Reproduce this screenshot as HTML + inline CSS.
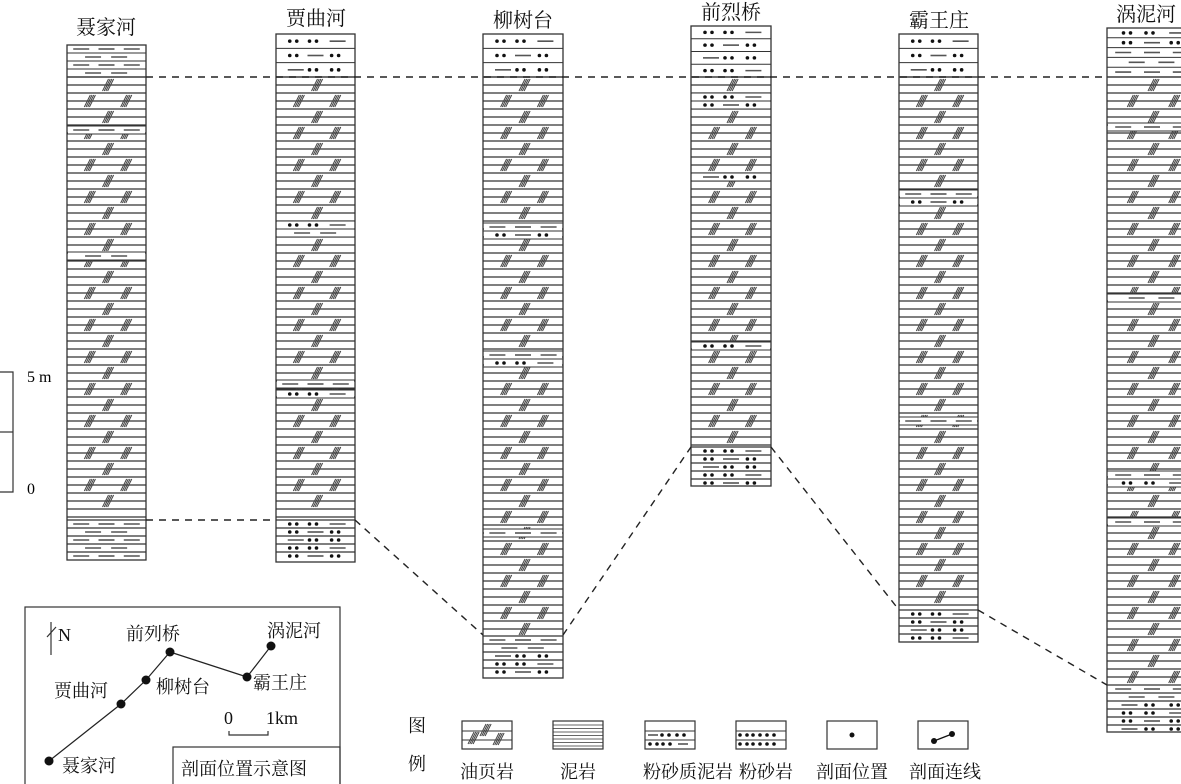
<!DOCTYPE html>
<html><head><meta charset="utf-8">
<style>
html,body{margin:0;padding:0;background:#fff;}
svg{display:block;font-family:"Liberation Serif","Noto Serif CJK SC","Noto Sans CJK SC",serif;}
</style></head>
<body>
<svg id="s" width="1181" height="784" viewBox="0 0 1181 784" xmlns="http://www.w3.org/2000/svg">
<g id="cols"></g>
<g font-size="20" fill="#111" text-anchor="middle" font-family="Liberation Serif, Noto Serif CJK SC, serif">
<text x="106" y="34">聂家河</text>
<text x="316" y="25">贾曲河</text>
<text x="523" y="27">柳树台</text>
<text x="731" y="19">前烈桥</text>
<text x="939" y="27">霸王庄</text>
<text x="1146" y="21">涡泥河</text>
</g>
<g stroke="#222" stroke-width="1.4" stroke-dasharray="7,6" fill="none">
<line x1="146" y1="77" x2="1107" y2="77"/>
<polyline points="146,520 276,520"/>
<polyline points="355,520 483,635"/>
<polyline points="563,635 691,447"/>
<polyline points="771,447 899,610"/>
<polyline points="978,610 1107,685"/>
</g>
<g stroke="#333" stroke-width="1.2" fill="none">
<polyline points="0,372 13,372 13,492 0,492"/>
<line x1="0" y1="432" x2="13" y2="432"/>
</g>
<text x="27" y="382" font-size="16" font-family="Liberation Serif, serif">5 m</text>
<text x="27" y="494" font-size="16" font-family="Liberation Serif, serif">0</text>
<g stroke="#333" stroke-width="1.2" fill="none">
<rect x="25" y="607" width="315" height="180"/>
<rect x="173" y="747" width="167" height="40"/>
<polyline points="49,761 121,704 146,680 170,652 247,677 271,646" stroke="#222"/>
<polyline points="229,731 229,735 268,735 268,731"/>
<line x1="51" y1="622" x2="51" y2="655"/>
<line x1="47" y1="637" x2="56" y2="627"/>
</g>
<g fill="#111">
<circle cx="49" cy="761" r="4.5"/><circle cx="121" cy="704" r="4.5"/><circle cx="146" cy="680" r="4.5"/>
<circle cx="170" cy="652" r="4.5"/><circle cx="247" cy="677" r="4.5"/><circle cx="271" cy="646" r="4.5"/>
</g>
<g font-size="18" fill="#111">
<text x="58" y="641" font-family="Liberation Serif, serif">N</text>
<text x="126" y="640">前列桥</text>
<text x="267" y="637">涡泥河</text>
<text x="54" y="697">贾曲河</text>
<text x="156" y="693">柳树台</text>
<text x="253" y="689">霸王庄</text>
<text x="62" y="772">聂家河</text>
<text x="224" y="724" font-family="Liberation Serif, serif">0</text>
<text x="266" y="724" font-family="Liberation Serif, serif">1km</text>
<text x="181" y="775">剖面位置示意图</text>
<text x="408" y="732">图</text>
<text x="408" y="770">例</text>
<text x="487" y="778" text-anchor="middle">油页岩</text>
<text x="578" y="778" text-anchor="middle">泥岩</text>
<text x="688" y="778" text-anchor="middle">粉砂质泥岩</text>
<text x="766" y="778" text-anchor="middle">粉砂岩</text>
<text x="852" y="778" text-anchor="middle">剖面位置</text>
<text x="945" y="778" text-anchor="middle">剖面连线</text>
</g>
<g id="leg"></g>
</svg>
<script>
var out=[];
function L(x1,y1,x2,y2,c,w,d){out.push('<line x1="'+x1+'" y1="'+y1+'" x2="'+x2+'" y2="'+y2+'" stroke="'+(c||'#333')+'" stroke-width="'+(w||1)+'"'+(d?' stroke-dasharray="'+d+'"':'')+'/>');}
function dots(x,y){out.push('<circle cx="'+x+'" cy="'+y+'" r="1.8" fill="#111"/><circle cx="'+(x+7)+'" cy="'+y+'" r="1.8" fill="#111"/>');}
function dash(x,y,w){L(x,y,x+(w||14),y,'#555',1.6);}
function shale(x,y){for(var i=0;i<4;i++){L(x-4+i*1.7,y+6,x+2+i*1.7,y-6,'#444',1);}}
function dotrow(x,w,y,k){var p=[0.25,0.5,0.78];for(var i=0;i<3;i++){var cx=x+w*p[i]-6;if((i+k)%3==2)dash(cx-2,y,16);else dots(cx,y);}}
function dashrow(x,w,y,k){var p=k%2?[0.33,0.66]:[0.18,0.5,0.82];for(var i=0;i<p.length;i++)dash(x+w*p[i]-8,y,16);}
function col(x,w,top,bot,topRows,topType,sbot,botType,mids){
  out.push('<rect x="'+x+'" y="'+top+'" width="'+w+'" height="'+(bot-top)+'" fill="#fff" stroke="#333" stroke-width="1.3"/>');
  var h=(77-top)/topRows;
  for(var i=0;i<topRows;i++){var y=top+i*h; if(i>0)L(x,y,x+w,y);
    var t=topType=='mix'?(i<2?'dot':'dash'):topType;
    if(t=='dot')dotrow(x,w,y+h/2,i);else dashrow(x,w,y+h/2,i);}
  var k=0;
  for(var y=77;y<sbot-1;y+=8){L(x,y,x+w,y,'#333',1.2);}
  for(var y=77+8;y<sbot-4;y+=16){k++; if(k%2)shale(x+w*0.5,y);else{shale(x+w*0.27,y);shale(x+w*0.73,y);}}
  (mids||[]).forEach(function(m,j){var t=m[1];out.push('<rect x="'+(x+1)+'" y="'+(m[0]-4)+'" width="'+(w-2)+'" height="8" fill="#fff"/>');
    if(t=='dot')dotrow(x,w,m[0],j);else dashrow(x,w,m[0],j);L(x,m[0]-4,x+w,m[0]-4);L(x,m[0]+4,x+w,m[0]+4);});
  for(var y=sbot,i=0;y<bot-2;y+=8,i++){L(x,y,x+w,y,'#333',1.2);
    if(botType=='dash'||(botType=='mix'&&i<2))dashrow(x,w,y+4,i);else dotrow(x,w,y+4,i);}
  L(x,77,x+w,77,'#333',1.2);
}
col(67,79,45,560,4,'dash',520,'dash',[[130,'dash'],[256,'dash']]);
col(276,79,34,562,3,'dot',520,'dot',[[225,'dot'],[233,'dash'],[384,'dash'],[394,'dot']]);
col(483,80,34,678,3,'dot',636,'mix',[[227,'dash'],[235,'dot'],[355,'dash'],[363,'dot'],[533,'dash']]);
col(691,80,26,486,4,'dot',447,'dot',[[97,'dot'],[105,'dot'],[177,'dot'],[346,'dot']]);
col(899,79,34,642,3,'dot',610,'dot',[[194,'dash'],[202,'dot'],[421,'dash']]);
col(1107,90,28,732,5,'mix',685,'mix',[[127,'dash'],[298,'dash'],[475,'dash'],[483,'dot'],[522,'dash']]);
document.getElementById('cols').innerHTML=out.join('');
out=[];
var lx=[462,553,645,736,827,918];
lx.forEach(function(x){out.push('<rect x="'+x+'" y="721" width="50" height="28" fill="#fff" stroke="#333" stroke-width="1.2"/>');});
L(462,731,512,731);L(462,740,512,740);shale(472,738);shale(484,730);shale(497,739);
for(var y=725;y<748;y+=3.5)L(553,y,603,y,'#333',0.8);
L(645,731,695,731);L(645,740,695,740);dash(648,735,10);dots(662,735);dots(677,735);dots(650,744);dots(663,744);dash(678,744,10);
L(736,731,786,731);L(736,740,786,740);[740,753,767].forEach(function(x){dots(x,735);dots(x,744);});
out.push('<circle cx="852" cy="735" r="2.5" fill="#111"/>');
L(934,741,952,734,'#111',1.3);out.push('<circle cx="934" cy="741" r="3" fill="#111"/><circle cx="952" cy="734" r="3" fill="#111"/>');
document.getElementById('leg').innerHTML=out.join('');
</script>
</body></html>
